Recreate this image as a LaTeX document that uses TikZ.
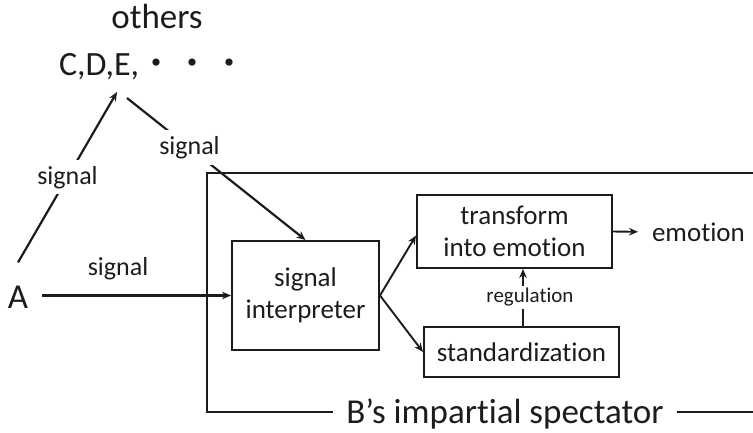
\documentclass[tikz,border=0pt]{standalone}
\usepackage{fontspec}
\setmainfont{Carlito}[Ligatures={NoCommon}]
\newfontfamily\cjkfont{Noto Sans CJK JP}
\usetikzlibrary{arrows.meta,positioning,calc}
\definecolor{ink}{RGB}{28,28,28}

\begin{document}
\begin{tikzpicture}[x=1pt,y=-1pt,>={Stealth[length=9pt,width=7.5pt]},line width=2.2pt,draw=ink,
  every node/.style={text=ink,inner sep=0pt},
  box/.style={draw=ink,line width=2pt,align=center,font=\fontsize{27}{32}\selectfont},
  siglabel/.style={font=\fontsize{26}{30}\selectfont},
  big/.style={font=\fontsize{35}{40}\selectfont}]
\useasboundingbox (0,0) rectangle (753,432);
% the others
\node[big,anchor=base] (others) at (157,28) {others};
\node[font=\fontsize{34}{40}\selectfont,anchor=base west] (cde) at (58,75) {C,D,E,{\cjkfont ・\hspace{2.5pt}・\hspace{2.5pt}・}};
\node[big,anchor=base] (A) at (18,308) {A};
% B's side
\node[box,minimum width=147pt,minimum height=109pt] (interp) at (305.5,295.5) {signal\\interpreter};
\node[box,minimum width=195pt,minimum height=73pt] (trans) at (514.5,231.5) {transform\\into emotion};
\node[box,minimum width=195pt,minimum height=50pt] (std) at (521.5,352) {standardization};
\node[box,draw=none,anchor=west] (emo) at (651,232) {emotion};
\node[big,anchor=base,text depth=0pt,inner xsep=12pt] (spec) at (505,423) {B’s impartial spectator};
\coordinate (cdeIn) at (117,92);
\coordinate (cdeOut) at (127,98);
\coordinate (fbl) at (207,411.5);
\coordinate (ftr) at (753,173);
\coordinate (fbr) at (753,411.5);
% frame
\draw[line width=2pt] (ftr) -| (fbl) -- (fbl -| spec.west);
\draw[line width=2pt] (spec.east |- fbr) -- (fbr);
% signals
\draw[->] ([yshift=22pt]A.north) -- (cdeIn) node[siglabel,pos=0.5,fill=white,inner sep=6pt] {signal};
\draw[->] (cdeOut) -- (interp.north) node[siglabel,pos=0.35,fill=white,inner sep=6pt] {signal};
\draw[->,shorten <=13pt] (interp.west -| A.east) -- (interp.west) node[siglabel,pos=0.44,above=14pt] {signal};
\draw[->,line width=1.9pt] (interp.east) -- ([yshift=-4pt]trans.west);
\draw[->,line width=1.9pt] (interp.east) -- (std.west);
\draw[->,line width=1.9pt,shorten >=13pt] (trans.east) -- (emo.west);
\draw[->,line width=1.9pt] ([xshift=1.5pt]std.north) -- ([xshift=1.5pt]std.north |- trans.south)
  node[midway,xshift=7pt,fill=white,inner sep=2pt,font=\fontsize{21}{24}\selectfont] {regulation};
\end{tikzpicture}
\end{document}
